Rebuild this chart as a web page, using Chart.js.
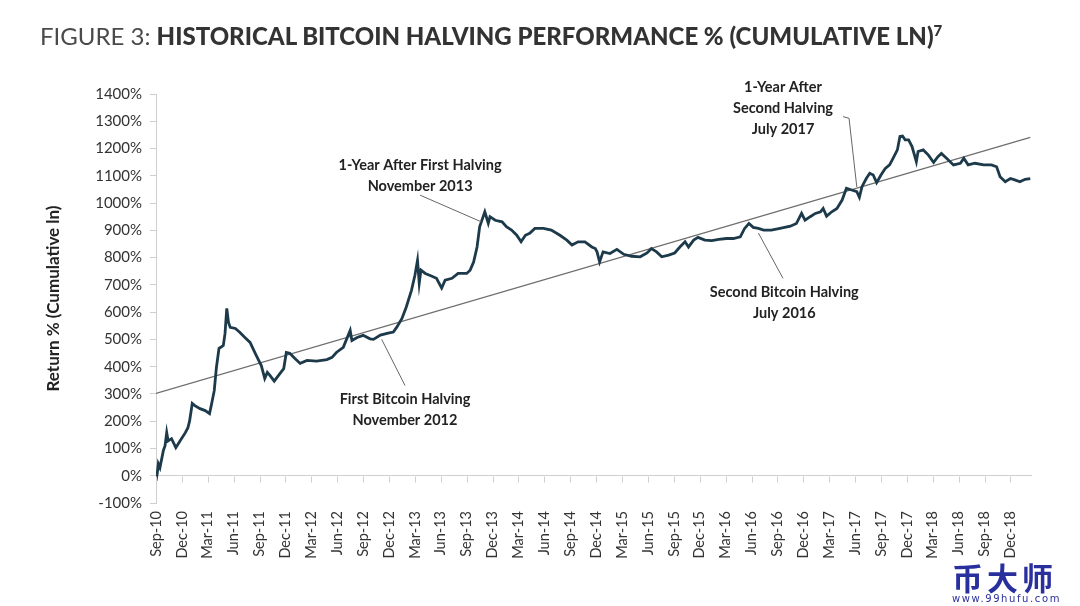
<!DOCTYPE html>
<html>
<head>
<meta charset="utf-8">
<script src="https://cdn.jsdelivr.net/npm/chart.js@4.4.1/dist/chart.umd.min.js"></script>
<style>
  body { margin: 0; background: #fff; }
  #wrap { position: relative; width: 1080px; height: 606px; overflow: hidden; }
  #chart { position: absolute; left: 0; top: 0; }
  #title {
    position: absolute; left: 40px; top: 21px; white-space: nowrap;
    font-family: Lato, "Open Sans", sans-serif; font-size: 24px; color: #3a3a3a;
  }
  #title .lite { font-weight: 400; color: #4a4a4a; }
  #title b { font-weight: 900; color: #333; }
  #title sup { font-size: 15px; font-weight: 900; }
  #mark { position: absolute; left: 952px; top: 560px; font-family: "Noto Sans CJK SC", sans-serif; color: #2a2f9e; }
  #mark .big { font-size: 31px; font-weight: 700; line-height: 34px; letter-spacing: 4px; }
  #mark .small { font-size: 10px; letter-spacing: 1.6px; line-height: 10px; font-family: "DejaVu Sans", sans-serif; }
</style>
</head>
<body>
<div id="wrap">
  <canvas id="chart" width="1080" height="606"></canvas>
  <div id="title"><span class="lite">FIGURE 3: </span><b>HISTORICAL BITCOIN HALVING PERFORMANCE % (CUMULATIVE LN)<sup>7</sup></b></div>
  <div id="mark"><div class="big">币大师</div><div class="small">www.99hufu.com</div></div>
</div>
<script>
// quarter labels on the time axis (one every 3 months, starting Sep-10)
const tickLabels = ['Sep-10','Dec-10','Mar-11','Jun-11','Sep-11','Dec-11','Mar-12','Jun-12','Sep-12','Dec-12',
  'Mar-13','Jun-13','Sep-13','Dec-13','Mar-14','Jun-14','Sep-14','Dec-14','Mar-15','Jun-15','Sep-15','Dec-15',
  'Mar-16','Jun-16','Sep-16','Dec-16','Mar-17','Jun-17','Sep-17','Dec-17','Mar-18','Jun-18','Sep-18','Dec-18'];

// months since Sep-10 and cumulative ln return in %
const months = [0,0.15,0.27,0.46,0.85,1.05,1.24,1.4,1.8,2.3,2.8,3.4,3.7,3.9,4.2,4.5,5.1,5.7,6.2,6.4,6.75,7,7.3,7.5,7.8,8,8.2,8.4,8.6,
  9.2,9.7,10.3,10.9,11.5,11.9,12.2,12.6,12.9,13.2,13.7,14.2,14.8,15.1,15.5,16.1,16.7,17.5,18.6,19.8,20.4,20.9,21.7,22.5,22.7,
  23.3,24,24.8,25.2,26,26.9,27.5,27.9,28.5,29,29.6,30,30.3,30.5,30.7,31.2,31.7,32.5,33.1,33.5,34.3,35,36,36.4,36.8,37.2,37.5,
  38.1,38.5,38.7,39.3,40.1,40.6,41.2,41.8,42.3,42.8,43.3,43.9,44.9,45.8,46.8,47.6,48.2,48.9,49.7,50.5,50.9,51.1,51.4,51.8,
  52.6,53.4,54.2,55.1,56.1,56.9,57.4,58,58.6,59.4,60.1,60.7,61.3,61.7,62.3,62.8,63.6,64.4,65.2,66.1,66.9,67.7,68.2,68.7,69.2,
  69.8,70.4,71.3,72.3,73.5,74.2,74.8,75.2,75.8,76.4,77,77.3,77.7,78.3,78.9,79.5,80,80.6,81.2,81.5,81.8,82.3,82.7,83.1,83.5,
  84,84.5,85,85.4,85.9,86.2,86.5,86.8,87.2,87.6,88.1,88.3,88.9,89.5,90.1,90.6,91,91.6,92.4,93.2,93.6,94.1,94.9,95.9,96.8,
  97.4,97.8,98.4,99,99.5,100.1,100.7,101.3];
const returns = [-18,10,44,30,92,110,158,128,136,103,128,158,176,202,265,257,246,239,228,257,312,397,467,471,478,522,614,562,544,
  540,526,507,489,449,423,404,357,379,368,347,368,393,452,449,430,412,423,420,426,434,452,471,533,496,
  507,515,502,500,516,523,527,545,577,619,680,735,790,706,754,742,735,724,688,717,724,742,742,754,784,839,913,
  968,926,950,937,931,913,901,882,858,882,889,907,907,901,882,864,846,858,858,839,833,821,784,821,
  815,830,812,805,803,817,833,821,803,809,817,839,858,839,864,874,864,862,867,870,870,876,907,925,911,
  907,901,901,907,915,925,962,937,950,962,968,980,952,968,980,1011,1054,1048,1042,1021,1060,1090,1109,1103,1075,
  1103,1127,1140,1164,1195,1244,1246,1232,1232,1207,1152,1189,1195,1176,1149,1170,1182,1164,1140,1146,1164,1140,1146,1140,1140,
  1133,1097,1078,1090,1085,1078,1087,1090];

// straight trend line end points
const trendMonths = [0, 101.3];
const trendValues = [302, 1241];

// annotations: text lines, centre of text (month, %), leader line points (month, %)
const noteTexts = [
  ['First Bitcoin Halving', 'November 2012'],
  ['1-Year After First Halving', 'November 2013'],
  ['Second Bitcoin Halving', 'July 2016'],
  ['1-Year After', 'Second Halving', 'July 2017']
];
const noteAt = [[28.85, 279], [30.6, 1140], [72.8, 673], [72.65, 1423]];
const noteLeaders = [
  [[26.15, 500], [28.85, 331]],
  [[30.6, 1029], [37.7, 931]],
  [[69.8, 890], [72.65, 724]],
  [[79.6, 1317], [80.3, 1311], [81.2, 1059]]
];

const notesPlugin = {
  id: 'notes',
  afterDatasetsDraw(chart) {
    const { ctx, scales: { x, y } } = chart;
    ctx.save();
    // small tick marks hanging below the 0% line
    ctx.strokeStyle = '#cfcfcf';
    ctx.lineWidth = 1;
    const zy = Math.round(y.getPixelForValue(0)) + 0.5;
    x.ticks.forEach(t => {
      const px = Math.round(x.getPixelForValue(t.value)) + 0.5;
      ctx.beginPath(); ctx.moveTo(px, zy); ctx.lineTo(px, zy + 6); ctx.stroke();
    });
    // leader lines
    ctx.strokeStyle = '#666';
    noteLeaders.forEach(pts => {
      ctx.beginPath();
      pts.forEach((p, i) => {
        const px = x.getPixelForValue(p[0]), py = y.getPixelForValue(p[1]);
        if (i === 0) ctx.moveTo(px, py); else ctx.lineTo(px, py);
      });
      ctx.stroke();
    });
    // labels
    ctx.fillStyle = '#222';
    ctx.font = 'bold 14.5px Lato, "Open Sans", sans-serif';
    ctx.textAlign = 'center';
    ctx.textBaseline = 'middle';
    noteTexts.forEach((lines, i) => {
      const cx = x.getPixelForValue(noteAt[i][0]);
      const cy = y.getPixelForValue(noteAt[i][1]);
      lines.forEach((s, j) => ctx.fillText(s, cx, cy + j * 21));
    });
    ctx.restore();
  }
};

const points = months.map((m, i) => ({ x: m, y: returns[i] }));
const trend = trendMonths.map((m, i) => ({ x: m, y: trendValues[i] }));

new Chart(document.getElementById('chart'), {
  type: 'line',
  data: {
    datasets: [
      { data: trend, borderColor: '#6e6e6e', borderWidth: 1.2, pointRadius: 0, order: 2 },
      { data: points, borderColor: '#1d3a4b', borderWidth: 2.8, pointRadius: 0, tension: 0, order: 1 }
    ]
  },
  options: {
    responsive: false,
    animation: false,
    plugins: { legend: { display: false }, tooltip: { enabled: false } },
    layout: { padding: { top: 94, left: 30, right: 48, bottom: 43 } },
    scales: {
      x: {
        type: 'linear',
        min: 0,
        max: 101.5,
        grid: { display: false, drawTicks: false },
        border: { display: false },
        afterBuildTicks: s => { s.ticks = tickLabels.map((_, i) => ({ value: i * 3 })); },
        afterFit: s => { s.height = 60; },
        ticks: {
          autoSkip: false,
          minRotation: 90,
          maxRotation: 90,
          padding: 8,
          color: '#333',
          font: { family: 'Lato, "Open Sans", sans-serif', size: 14.5 },
          callback: v => tickLabels[Math.round(v / 3)]
        }
      },
      y: {
        min: -100,
        max: 1400,
        afterFit: s => { s.width = 126; },
        grid: {
          color: c => (c.tick && c.tick.value === 0 ? '#cfcfcf' : 'rgba(0,0,0,0)'),
          tickColor: '#cfcfcf',
          tickLength: 6
        },
        border: { display: true, color: '#cfcfcf' },
        ticks: {
          stepSize: 100,
          padding: 8,
          color: '#333',
          font: { family: 'Lato, "Open Sans", sans-serif', size: 15 },
          callback: v => v + '%'
        },
        title: {
          display: true,
          text: 'Return % (Cumulative ln)',
          color: '#222',
          padding: { top: 13 },
          font: { family: 'Lato, "Open Sans", sans-serif', size: 17, weight: 'bold' }
        }
      }
    }
  },
  plugins: [notesPlugin]
});
</script>
</body>
</html>
